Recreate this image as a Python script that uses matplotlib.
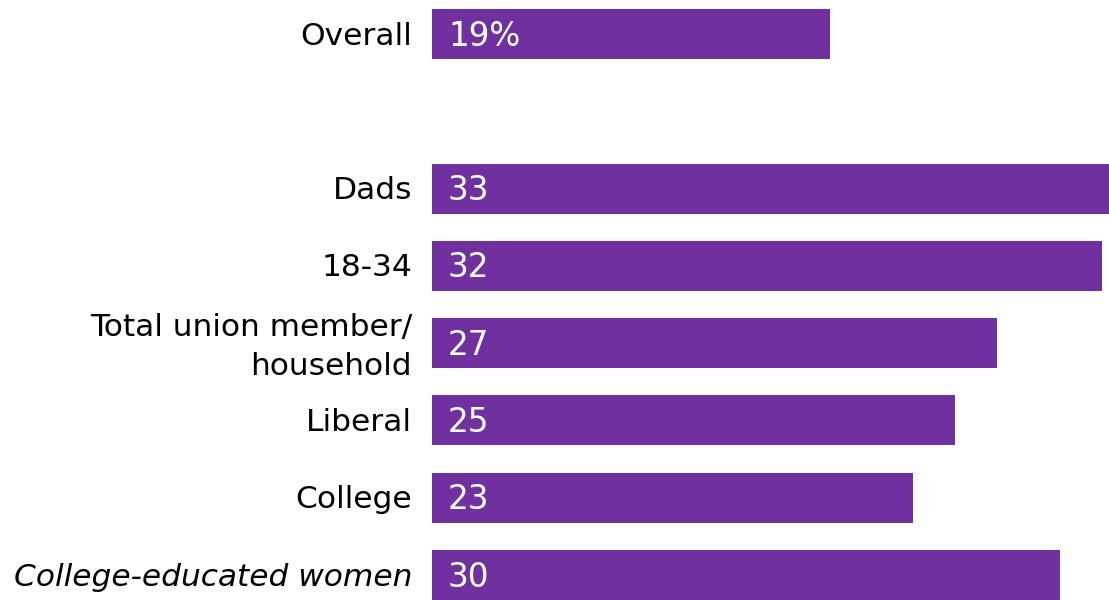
import matplotlib
matplotlib.use("Agg")
import matplotlib.pyplot as plt

categories = ["Overall", "Dads", "18-34", "Total union member/\nhousehold", "Liberal", "College", "College-educated women"]
values = [19, 33, 32, 27, 25, 23, 30]
value_labels = ["19%", "33", "32", "27", "25", "23", "30"]
positions = [0, 2, 3, 4, 5, 6, 7]
italic = [False, False, False, False, False, False, True]

plt.rcParams['font.family'] = ['DejaVu Sans']
fig = plt.figure(figsize=(11.09, 6.0), dpi=100)
ax = fig.add_axes([432/1109, 0, 1 - 432/1109, 1])
color = "#7030A0"
ax.barh(positions, values, height=0.647, color=color, left=0)
ax.set_xlim(0, 677/20.93)
ax.set_ylim(7.323, -0.44)
ax.axis("off")

for p, lab, it in zip(positions, categories, italic):
    ax.annotate(lab, xy=(0, p), xytext=(-20, -4 if "\n" in lab else -2), textcoords="offset pixels",
                ha="right", va="center", fontsize=22.5, color="black",
                style="italic" if it else "normal", linespacing=1.45)
for p, v, vl in zip(positions, values, value_labels):
    ax.annotate(vl, xy=(0, p), xytext=(16, -2), textcoords="offset pixels",
                ha="left", va="center", fontsize=23.5, color="white")

fig.savefig("out.png", dpi=100)
